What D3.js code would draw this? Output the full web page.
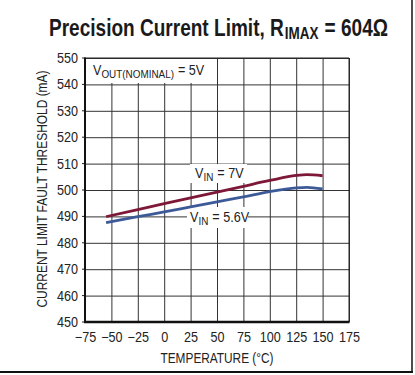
<!DOCTYPE html>
<html><head><meta charset="utf-8">
<script src="https://cdn.jsdelivr.net/npm/d3@7"></script>
<style>body{margin:0;background:#fff}svg{display:block;font-family:"Liberation Sans",Arial,sans-serif}</style>
</head><body><svg id="c" width="415" height="375"></svg>
<script>
const temps = [-55, -25, 0, 25, 50, 75, 100, 125, 135, 150];
const vin7 = [489.9, 492.6, 494.8, 497.0, 499.2, 501.4, 503.6, 505.5, 505.8, 505.4];
const vin56 = [487.6, 489.9, 491.7, 493.6, 495.5, 497.4, 499.4, 500.8, 501.0, 500.4];
const xTicks = [-75, -50, -25, 0, 25, 50, 75, 100, 125, 150, 175];
const yTicks = [450, 460, 470, 480, 490, 500, 510, 520, 530, 540, 550];

const svg = d3.select("#c");
const L = 85, R = 349, T = 58, B = 322;
const x = d3.scaleLinear().domain([-75, 175]).range([L, R]);
const y = d3.scaleLinear().domain([450, 550]).range([B, T]);

function condense(sel, f) {
  sel.each(function () {
    const w = this.getComputedTextLength();
    d3.select(this).attr("textLength", w * f).attr("lengthAdjust", "spacingAndGlyphs");
  });
}

// run of [text, fontSize, dy, gapAfter] parts, each its own text element, horizontally scaled via transform
function runText(x0, base, parts, opts) {
  const els = parts.map(p => svg.append("text").attr("x", 0).attr("y", 0)
    .attr("font-size", p[1]).attr("font-weight", opts.weight || "normal").attr("fill", opts.fill || "#222").text(p[0]));
  const ws = els.map(e => e.node().getComputedTextLength());
  const gaps = parts.reduce((a, p) => a + (p[3] || 0), 0);
  const tot = ws.reduce((a, b) => a + b, 0);
  const f = opts.total ? (opts.total - gaps) / tot : opts.f;
  let cx = x0;
  els.forEach((e, i) => {
    e.attr("transform", `translate(${cx},${base + (parts[i][2] || 0)}) scale(${f},1)`);
    cx += ws[i] * f + (parts[i][3] || 0);
  });
}

svg.append("rect").attr("width", 415).attr("height", 375).attr("fill", "#fff");

// grid + tick labels
const gx = svg.append("g").attr("transform", `translate(0,${B})`)
  .call(d3.axisBottom(x).tickValues(xTicks).tickSize(-(B - T)).tickFormat(d => String(d).replace("-", "\u2212")));
gx.select(".domain").remove();
gx.selectAll(".tick line").attr("stroke", "#333").attr("stroke-width", 1);
gx.selectAll(".tick text").attr("font-size", 14).attr("fill", "#222").attr("dy", null).attr("y", 20);

const gy = svg.append("g").attr("transform", `translate(${L},0)`)
  .call(d3.axisLeft(y).tickValues(yTicks).tickSize(-(R - L)).tickPadding(7));
gy.select(".domain").remove();
gy.selectAll(".tick line").attr("stroke", "#333").attr("stroke-width", 1);
gy.selectAll(".tick text").attr("font-size", 14).attr("fill", "#222");

svg.append("g").selectAll("line").data(yTicks).join("line")
  .attr("x1", L - 3).attr("x2", L).attr("y1", d => y(d)).attr("y2", d => y(d))
  .attr("stroke", "#222");

// white label backgrounds
svg.append("rect").attr("x", L + 1).attr("y", T + 1).attr("width", 127).attr("height", 24).attr("fill", "#fff");
svg.append("rect").attr("x", 190).attr("y", 164).attr("width", 57).attr("height", 19).attr("fill", "#fff");
svg.append("rect").attr("x", 187).attr("y", 207).attr("width", 61).attr("height", 21).attr("fill", "#fff");

// frame
svg.append("line").attr("x1", L).attr("x2", R).attr("y1", T).attr("y2", T).attr("stroke", "#222").attr("stroke-width", 1);
svg.append("line").attr("x1", R).attr("x2", R).attr("y1", T).attr("y2", B).attr("stroke", "#222").attr("stroke-width", 1);
svg.append("line").attr("x1", L).attr("x2", L).attr("y1", T - 0.5).attr("y2", B + 1).attr("stroke", "#111").attr("stroke-width", 2);
svg.append("line").attr("x1", L - 1).attr("x2", R + 0.5).attr("y1", B).attr("y2", B).attr("stroke", "#111").attr("stroke-width", 2.5);

// curves
const line = d3.line().x(d => x(d[0])).y(d => y(d[1])).curve(d3.curveMonotoneX);
svg.append("path").datum(temps.map((t, i) => [t, vin7[i]])).attr("d", line)
  .attr("fill", "none").attr("stroke", "#7e1838").attr("stroke-width", 2.8);
svg.append("path").datum(temps.map((t, i) => [t, vin56[i]])).attr("d", line)
  .attr("fill", "none").attr("stroke", "#3d5a98").attr("stroke-width", 2.8);

// labels
runText(93, 75, [["V", 14, 0], ["OUT(NOMINAL)", 11, 3, 4], ["= 5V", 14, 0]], { f: 0.9 });
runText(195, 178, [["V", 14, 0], ["IN", 11, 3, 4], ["= 7V", 14, 0]], { f: 0.9 });
runText(190, 222, [["V", 14, 0], ["IN", 11, 3, 4], ["= 5.6V", 14, 0]], { f: 0.9 });

condense(gx.selectAll(".tick text"), 0.9);
condense(gy.selectAll(".tick text"), 0.9);

// axis titles
svg.append("text").attr("x", (L + R) / 2).attr("y", 363).attr("text-anchor", "middle")
  .attr("font-size", 14).attr("fill", "#222").text("TEMPERATURE (°C)")
  .attr("textLength", 113).attr("lengthAdjust", "spacingAndGlyphs");
svg.append("text").attr("transform", `translate(47,${(T + B) / 2 - 1}) rotate(-90)`).attr("text-anchor", "middle")
  .attr("font-size", 14).attr("fill", "#222").text("CURRENT LIMIT FAULT THRESHOLD (mA)")
  .attr("textLength", 237).attr("lengthAdjust", "spacingAndGlyphs");

// title
runText(49, 36, [["Precision Current Limit, R", 24, 0, 1], ["IMAX", 17, 3, 6], ["= 604\u03A9", 24, 0]],
  { weight: "bold", fill: "#1a1a1a", total: 339 });

// outer border
svg.append("line").attr("x1", 0).attr("x2", 413).attr("y1", 372).attr("y2", 372).attr("stroke", "#111").attr("stroke-width", 2);
svg.append("line").attr("x1", 412).attr("x2", 412).attr("y1", 0).attr("y2", 373).attr("stroke", "#111").attr("stroke-width", 1.5);
</script></body></html>
